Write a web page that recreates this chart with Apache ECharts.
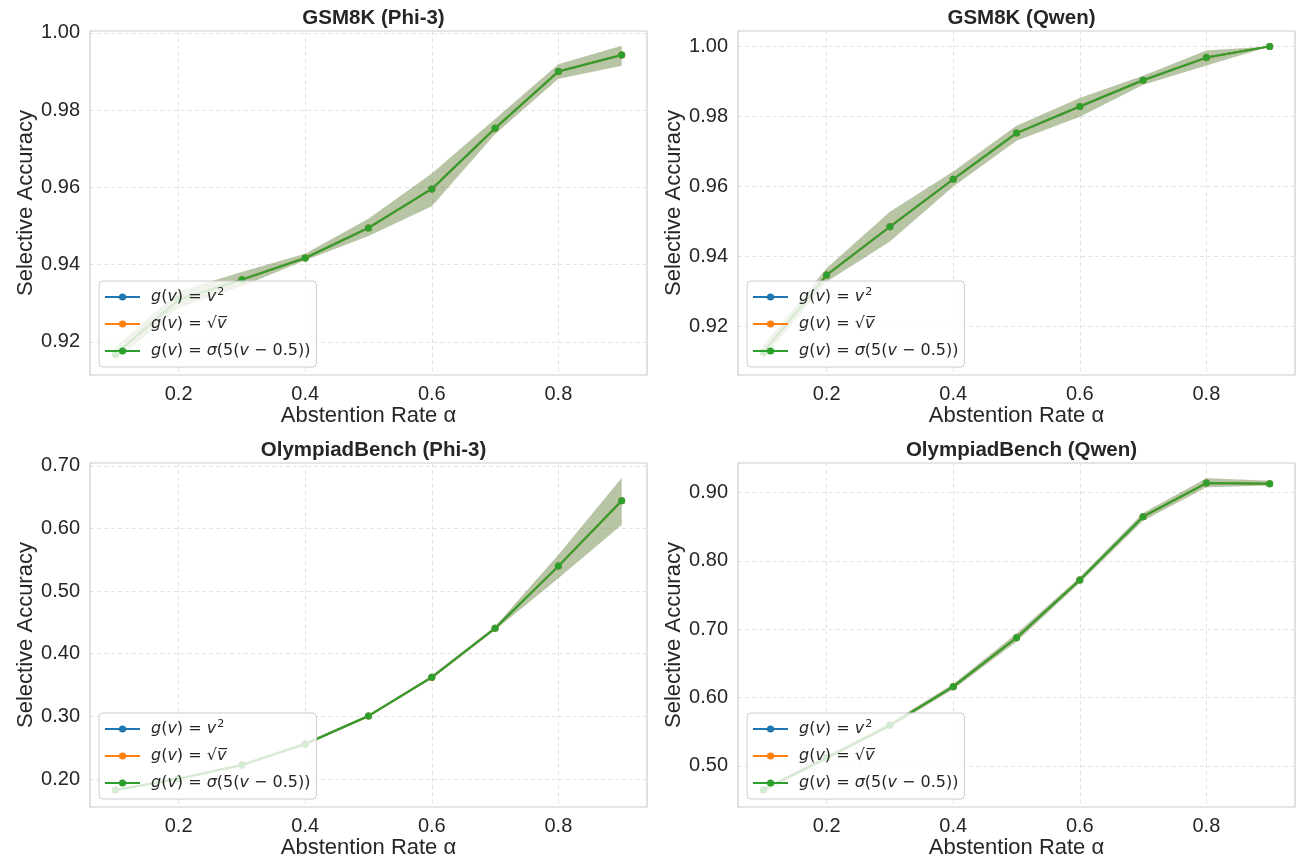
<!DOCTYPE html>
<html>
<head>
<meta charset="utf-8">
<script src="https://cdn.jsdelivr.net/npm/echarts@6/dist/echarts.min.js"></script>
<style>
html,body{margin:0;padding:0;background:#fff;}
#c{width:1296px;height:867px;}
</style>
</head>
<body>
<div id="c"></div>
<script>
// ---- data ----
const alphaRates = [0.1, 0.2, 0.3, 0.4, 0.5, 0.6, 0.7, 0.8, 0.9];

const gsmPhiMean = [0.9168, 0.9309, 0.9361, 0.9417, 0.9495, 0.9596, 0.9753, 0.9900, 0.9943];
const gsmPhiLow  = [0.9150, 0.9288, 0.9344, 0.9411, 0.9474, 0.9551, 0.9738, 0.9881, 0.9915];
const gsmPhiHigh = [0.9185, 0.9331, 0.9381, 0.9428, 0.9519, 0.9636, 0.9777, 0.9919, 0.9967];

const gsmQwenMean = [0.9125, 0.9346, 0.9484, 0.9620, 0.9752, 0.9828, 0.9903, 0.9968, 1.0000];
const gsmQwenLow  = [0.9105, 0.9327, 0.9442, 0.9599, 0.9730, 0.9799, 0.9890, 0.9945, 1.0000];
const gsmQwenHigh = [0.9145, 0.9365, 0.9527, 0.9642, 0.9773, 0.9852, 0.9916, 0.9988, 1.0000];

const olyPhiMean = [0.1824, 0.2005, 0.2224, 0.2559, 0.3006, 0.3624, 0.4407, 0.5398, 0.6441];
const olyPhiLow  = [0.1814, 0.1995, 0.2214, 0.2549, 0.2990, 0.3595, 0.4380, 0.5206, 0.6058];
const olyPhiHigh = [0.1834, 0.2015, 0.2234, 0.2569, 0.3022, 0.3653, 0.4434, 0.5580, 0.6803];

const olyQwenMean = [0.4649, 0.5120, 0.5595, 0.6160, 0.6876, 0.7719, 0.8645, 0.9137, 0.9127];
const olyQwenLow  = [0.4620, 0.5090, 0.5565, 0.6120, 0.6816, 0.7679, 0.8586, 0.9075, 0.9100];
const olyQwenHigh = [0.4680, 0.5150, 0.5625, 0.6200, 0.6936, 0.7759, 0.8700, 0.9206, 0.9170];

const xTickValues = [0.2, 0.4, 0.6, 0.8];
const gsmPhiTicks = [0.92, 0.94, 0.96, 0.98, 1.00];
const gsmQwenTicks = [0.92, 0.94, 0.96, 0.98, 1.00];
const olyPhiTicks = [0.20, 0.30, 0.40, 0.50, 0.60, 0.70];
const olyQwenTicks = [0.50, 0.60, 0.70, 0.80, 0.90];

const panelTitles = ['GSM8K (Phi-3)', 'GSM8K (Qwen)', 'OlympiadBench (Phi-3)', 'OlympiadBench (Qwen)'];
const funcNames = ['g(v) = v²', 'g(v) = √v', 'g(v) = σ(5(v − 0.5))'];
const funcColors = ['#1f77b4', '#ff7f0e', '#2ca02c'];
const funcBands = ['rgba(31,119,180,0.2)', 'rgba(255,127,14,0.2)', 'rgba(44,160,44,0.2)'];
const xAxisTitle = 'Abstention Rate α';
const yAxisTitle = 'Selective Accuracy';

// ---- layout ----
const panels = [
  {mean: gsmPhiMean, low: gsmPhiLow, high: gsmPhiHigh, ticks: gsmPhiTicks, ymin: 0.9114, ymax: 1.0005, left: 90, top: 31},
  {mean: gsmQwenMean, low: gsmQwenLow, high: gsmQwenHigh, ticks: gsmQwenTicks, ymin: 0.906, ymax: 1.0044, left: 738, top: 31},
  {mean: olyPhiMean, low: olyPhiLow, high: olyPhiHigh, ticks: olyPhiTicks, ymin: 0.1553, ymax: 0.7044, left: 90, top: 463},
  {mean: olyQwenMean, low: olyQwenLow, high: olyQwenHigh, ticks: olyQwenTicks, ymin: 0.440, ymax: 0.943, left: 738, top: 463}
];
const PW = 557, PH = 344;
const txt = '#262626';
const sans = '"Liberation Sans", Arial, sans-serif';

const grids = [], xAxes = [], yAxes = [], titles = [], legends = [], series = [];

function legendFormatter(name) {
  if (name === funcNames[0]) return '{i|g}{n|(}{i|v}{n|) = }{i|v}{s|2}';
  if (name === funcNames[1]) return '{i|g}{n|(}{i|v}{n|) = √}{i|v̅}';
  return '{i|g}{n|(}{i|v}{n|) = }{i|σ}{n|(5(}{i|v}{n| − 0.5))}';
}

function bandRenderer(params, api) {
  if (params.dataIndexInside !== 0) return null;
  const n = params.dataInsideLength;
  const upper = [], lower = [];
  for (let j = 0; j < n; j++) {
    upper.push(api.coord([api.value(0, j), api.value(2, j)]));
    lower.push(api.coord([api.value(0, j), api.value(1, j)]));
  }
  const pts = upper.concat(lower.reverse());
  return {
    type: 'polygon',
    shape: {points: pts},
    style: {fill: api.visual('color'), stroke: null}
  };
}

panels.forEach((p, i) => {
  grids.push({left: p.left, top: p.top, width: PW, height: PH, show: true,
    borderColor: '#cccccc', borderWidth: 1.2, backgroundColor: '#ffffff'});
  xAxes.push({
    type: 'value', gridIndex: i, min: 0.06, max: 0.94,
    name: xAxisTitle, nameLocation: 'middle', nameGap: 25,
    nameTextStyle: {fontFamily: sans, fontSize: 22, color: txt},
    axisLine: {show: false},
    axisTick: {show: true, length: 0, customValues: xTickValues},
    axisLabel: {customValues: xTickValues, fontFamily: sans, fontSize: 20, color: txt, margin: 9,
      formatter: v => v.toFixed(1)},
    splitLine: {show: true, lineStyle: {color: '#e3e3e3', type: [4, 3], width: 1}}
  });
  yAxes.push({
    type: 'value', gridIndex: i, min: p.ymin, max: p.ymax,
    name: yAxisTitle, nameLocation: 'middle', nameGap: 52,
    nameTextStyle: {fontFamily: sans, fontSize: 22, color: txt},
    axisLine: {show: false},
    axisTick: {show: true, length: 0, customValues: p.ticks},
    axisLabel: {customValues: p.ticks, fontFamily: sans, fontSize: 20, color: txt, margin: 10,
      formatter: v => v.toFixed(2)},
    splitLine: {show: true, lineStyle: {color: '#e3e3e3', type: [4, 3], width: 1}}
  });
  titles.push({text: panelTitles[i], left: p.left + PW / 2, top: p.top - 28, textAlign: 'center',
    textStyle: {fontFamily: sans, fontSize: 20.5, fontWeight: 'bold', color: txt}});
  legends.push({
    data: funcNames, orient: 'vertical', left: p.left + 9, top: p.top + PH - 94,
    itemWidth: 35, itemHeight: 9, itemGap: 7,
    padding: [6, 6, 6, 5],
    backgroundColor: 'rgba(255,255,255,0.8)', borderColor: '#cccccc', borderWidth: 1, borderRadius: 4,
    selectedMode: false,
    formatter: legendFormatter,
    textStyle: {color: txt, fontFamily: '"DejaVu Sans"', fontSize: 16, lineHeight: 20, padding: [0, 0, 0, 6],
      rich: {
        i: {fontFamily: '"DejaVu Sans"', fontStyle: 'italic', fontSize: 16, color: txt, lineHeight: 20},
        n: {fontFamily: '"DejaVu Sans"', fontSize: 16, color: txt, lineHeight: 20},
        s: {fontFamily: '"DejaVu Sans"', fontSize: 11, color: txt, lineHeight: 20, verticalAlign: 'top', padding: [0, 0, 6, 1]}
      }}
  });
  funcNames.forEach((fn, f) => {
    series.push({
      type: 'custom', xAxisIndex: i, yAxisIndex: i, silent: true, clip: true,
      renderItem: bandRenderer,
      encode: {x: 0, y: [1, 2]},
      data: alphaRates.map((a, k) => [a, p.low[k], p.high[k]]),
      itemStyle: {color: funcBands[f]}, z: 2
    });
    series.push({
      name: fn, type: 'line', xAxisIndex: i, yAxisIndex: i,
      data: alphaRates.map((a, k) => [a, p.mean[k]]),
      color: funcColors[f],
      symbol: 'circle', symbolSize: 7, showSymbol: true,
      lineStyle: {width: 2, color: funcColors[f]},
      itemStyle: {color: funcColors[f]}, z: 3
    });
  });
});

const chart = echarts.init(document.getElementById('c'), null, {renderer: 'canvas'});
chart.setOption({
  animation: false,
  backgroundColor: '#ffffff',
  title: titles, grid: grids, xAxis: xAxes, yAxis: yAxes, legend: legends, series: series
});
</script>
</body>
</html>
